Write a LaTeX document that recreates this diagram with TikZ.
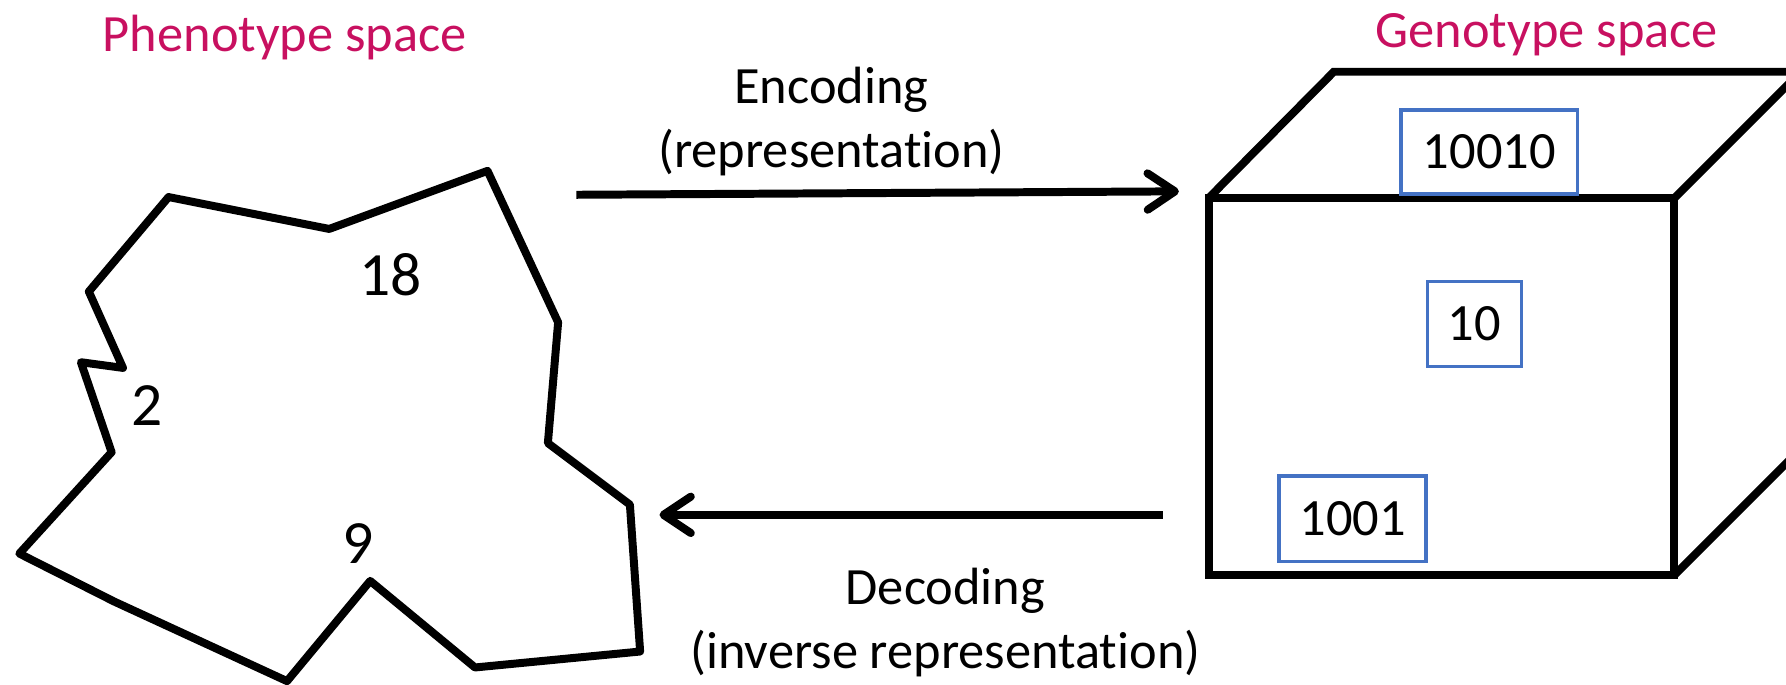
\documentclass[tikz,border=0pt]{standalone}
\usepackage{fontspec}
\setmainfont[RawFeature=-liga]{Carlito}
\usetikzlibrary{arrows.meta}
\definecolor{spacecol}{RGB}{200,16,96}
\definecolor{boxblue}{RGB}{68,114,196}
\tikzset{
  outline/.style={line width=7pt, line join=round, line cap=round},
  cubeline/.style={line width=7pt, line join=miter},
  maparrow/.style={line width=7pt, -{Straight Barb[length=24pt,width=32pt,round]}},
  title/.style={text=spacecol, anchor=base, inner sep=0pt},
  lbl/.style={anchor=base, inner sep=0pt, align=center},
  num/.style={anchor=base, inner sep=0pt, font=\fontsize{54}{64}\selectfont},
  genbox/.style={draw=boxblue, line width=3pt, inner sep=0pt, minimum height=74pt}
}
\begin{document}
\begin{tikzpicture}[x=1pt,y=-1pt]
  \fontsize{46}{56}\selectfont
  \useasboundingbox (0,0) rectangle (1568,601);
  \clip (0,0) rectangle (1568,601);

  % titles
  \node[title] (pheno) at (250,45) {Phenotype space};
  \node[title] (geno) at (1358,42) {Genotype space};

  % phenotype region
  \draw[outline] (148,173) -- (289,201) -- (428,150) -- (490,283) -- (481,389)
    -- (553,443) -- (562,572) -- (417,586) -- (325,510) -- (252,598)
    -- (100,528) -- (17,486) -- (98,397) -- (71,318) -- (108,323)
    -- (78,256) -- cycle;
  \node[num] (p18) at (343,259) {18};
  \node[num] (p2) at (129,374) {2};
  \node[num] (p9) at (314,495) {9};

  % genotype cube
  \coordinate (ftl) at (1061,174);
  \coordinate (ftr) at (1470,174);
  \coordinate (fbr) at (1470,505);
  \coordinate (btl) at (1171,63);
  \coordinate (btr) at (1581,63);
  \coordinate (bbr) at (1581,394);
  \draw[cubeline] (ftl) rectangle (fbr);
  \draw[cubeline] (ftl) -- (btl) -- (btr) -- (ftr);
  \draw[cubeline] (btr) -- (bbr) -- (fbr);

  \node[genbox, minimum width=155pt] (g1) at (1307.5,133.5) {10010};
  \node[genbox, minimum width=83pt, minimum height=75pt] (g2) at (1294.5,284.5) {10};
  \node[genbox, minimum width=129pt, minimum height=75pt] (g3) at (1187.5,455.5) {1001};

  % mappings
  \coordinate (encS) at (506,171);
  \coordinate (encT) at (1035,168);
  \coordinate (decS) at (1021,452);
  \coordinate (decT) at (579,452);
  \draw[maparrow] (encS) -- (encT);
  \draw[maparrow] (decS) -- (decT);
  \node[lbl] (enc) at (730,147) {Encoding\\(representation)};
  \node[lbl] (dec) at (830,587) {Decoding\\(inverse representation)};
\end{tikzpicture}
\end{document}
